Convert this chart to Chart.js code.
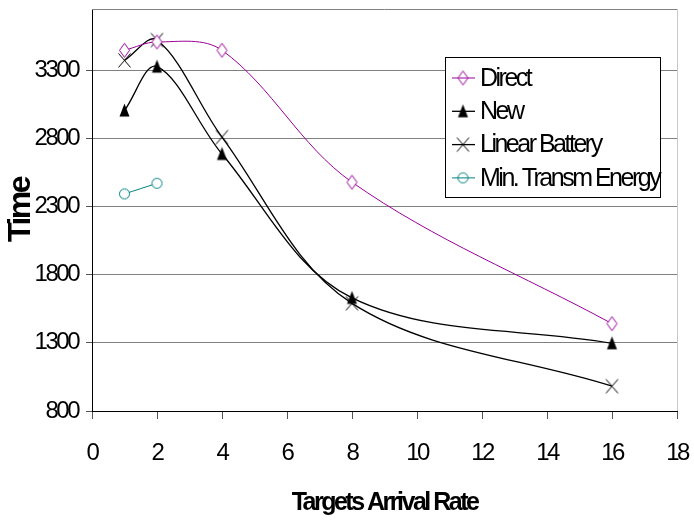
<!DOCTYPE html>
<html>
<head>
<meta charset="utf-8">
<script src="https://cdn.jsdelivr.net/npm/chart.js@4/dist/chart.umd.min.js"></script>
<style>
  html, body { margin: 0; padding: 0; background: #ffffff; }
  #wrap { width: 694px; height: 525px; }
</style>
</head>
<body>
<div id="wrap"><canvas id="chart" width="694" height="525"></canvas></div>
<script>
// Targets arrival rate vs. time for each routing scheme
const arrivalRates = [1, 2, 4, 8, 16];
const directTimes = [3447, 3508, 3447, 2479, 1441];
const newTimes = [3005, 3327, 2686, 1630, 1297];
const linearBatteryTimes = [3373, 3522, 2810, 1590, 982];
const minTransmRates = [1, 2];
const minTransmTimes = [2393, 2471];
const seriesNames = ['Direct', 'New', 'Linear Battery', 'Min. Transm Energy'];
const xTickValues = [0, 2, 4, 6, 8, 10, 12, 14, 16, 18];
const yTickValues = [800, 1300, 1800, 2300, 2800, 3300];
const xMin = 0, xMax = 18, yMin = 800, yMax = 3750;

const FONT = "'Liberation Sans', Arial, sans-serif";
const PURPLE = '#990099';
const TEAL = '#008080';

// Small canvas markers (taller than wide)
function makeMarker(kind, color, fill) {
  const c = document.createElement('canvas');
  c.width = 15; c.height = 17;
  const g = c.getContext('2d');
  const cx = 7.5, cy = 8.5;
  g.lineWidth = 1;
  g.strokeStyle = color;
  g.beginPath();
  if (kind === 'diamond') {
    g.moveTo(cx, cy - 7); g.lineTo(cx + 5, cy); g.lineTo(cx, cy + 7); g.lineTo(cx - 5, cy); g.closePath();
    if (fill) { g.fillStyle = fill; g.fill(); }
    g.stroke();
  } else if (kind === 'triangle') {
    g.moveTo(cx, cy - 7); g.lineTo(cx + 5, cy + 6); g.lineTo(cx - 5, cy + 6); g.closePath();
    g.fillStyle = color; g.fill();
  } else if (kind === 'cross') {
    g.moveTo(cx - 6, cy - 7); g.lineTo(cx + 6, cy + 7);
    g.moveTo(cx + 6, cy - 7); g.lineTo(cx - 6, cy + 7);
    g.stroke();
  } else if (kind === 'circle') {
    g.arc(cx, cy, 5, 0, Math.PI * 2);
    if (fill) { g.fillStyle = fill; g.fill(); }
    g.stroke();
  }
  return c;
}

const plotMarkers = [
  makeMarker('diamond', PURPLE, '#ffffff'),
  makeMarker('triangle', '#000000'),
  makeMarker('cross', '#000000'),
  makeMarker('circle', TEAL, '#ffffff')
];
const legendMarkers = [
  makeMarker('diamond', PURPLE, null),
  makeMarker('triangle', '#000000'),
  makeMarker('cross', '#000000'),
  makeMarker('circle', TEAL, null)
];
const lineColors = [PURPLE, '#000000', '#000000', TEAL];
const lineWidths = [1, 1.3, 1.3, 1];

function pairs(xs, ys) { return xs.map((x, i) => ({ x: x, y: ys[i] })); }

// Fixed axis box sizes, no label overflow padding
function fixBox(size, key) {
  return s => {
    s[key] = size;
    s.paddingTop = 0; s.paddingBottom = 0; s.paddingLeft = 0; s.paddingRight = 0;
  };
}

// Condensed text look for every label
const condensedText = {
  id: 'condensedText',
  beforeDraw(chart) { chart.ctx.letterSpacing = '-2.5px'; }
};

// Frame of the plot area: grey top edge, light right edge
const plotFrame = {
  id: 'plotFrame',
  beforeDatasetsDraw(chart) {
    const { ctx, chartArea: a } = chart;
    ctx.save();
    ctx.lineWidth = 1;
    ctx.strokeStyle = '#808080';
    ctx.beginPath(); ctx.moveTo(a.left, a.top + 0.5); ctx.lineTo(a.right, a.top + 0.5); ctx.stroke();
    ctx.strokeStyle = '#c8c8c8';
    ctx.beginPath(); ctx.moveTo(a.right + 0.5, a.top); ctx.lineTo(a.right + 0.5, a.bottom); ctx.stroke();
    ctx.restore();
  }
};

// Boxed legend inside the plot
const boxedLegend = {
  id: 'boxedLegend',
  afterDraw(chart) {
    const ctx = chart.ctx;
    const box = { x: 445, y: 57, w: 215, h: 140 };
    ctx.save();
    ctx.fillStyle = '#ffffff';
    ctx.fillRect(box.x, box.y, box.w, box.h);
    ctx.strokeStyle = '#000000';
    ctx.lineWidth = 1;
    ctx.strokeRect(box.x + 0.5, box.y + 0.5, box.w, box.h);
    ctx.letterSpacing = '-2.5px';
    ctx.font = '25px ' + FONT;
    ctx.textAlign = 'left';
    ctx.textBaseline = 'middle';
    seriesNames.forEach((name, i) => {
      const y = 78 + i * 33.3;
      ctx.strokeStyle = lineColors[i];
      ctx.lineWidth = lineWidths[i];
      ctx.beginPath(); ctx.moveTo(452, y); ctx.lineTo(475, y); ctx.stroke();
      const m = legendMarkers[i];
      ctx.drawImage(m, 463 - m.width / 2, y - m.height / 2);
      ctx.fillStyle = '#000000';
      ctx.fillText(name, 480, y + 1);
    });
    ctx.restore();
  }
};

const seriesData = [
  pairs(arrivalRates, directTimes),
  pairs(arrivalRates, newTimes),
  pairs(arrivalRates, linearBatteryTimes),
  pairs(minTransmRates, minTransmTimes)
];

new Chart(document.getElementById('chart'), {
  type: 'line',
  data: {
    datasets: seriesNames.map((name, i) => ({
      label: name,
      data: seriesData[i],
      borderColor: lineColors[i],
      borderWidth: lineWidths[i],
      backgroundColor: lineColors[i],
      pointStyle: plotMarkers[i],
      pointRadius: 6,
      pointHoverRadius: 6,
      tension: 0.35,
      fill: false
    }))
  },
  options: {
    responsive: false,
    maintainAspectRatio: false,
    devicePixelRatio: 1,
    animation: false,
    layout: { padding: { top: 9, right: 17, bottom: 0, left: 0 } },
    plugins: {
      legend: { display: false },
      tooltip: { enabled: false }
    },
    scales: {
      x: {
        type: 'linear',
        min: xMin, max: xMax,
        afterBuildTicks: s => { s.ticks = xTickValues.map(v => ({ value: v })); },
        afterFit: fixBox(114, 'height'),
        grid: { drawOnChartArea: false, tickLength: 8, tickColor: '#555555' },
        border: { color: '#000000', width: 1 },
        ticks: {
          autoSkip: false, maxRotation: 0, padding: 20, color: '#000000',
          font: { family: FONT, size: 24 },
          callback: v => String(v)
        },
        title: {
          display: true, text: 'Targets Arrival Rate', color: '#000000',
          font: { family: FONT, size: 25, weight: 'bold' },
          padding: { top: 0, bottom: 7 }
        }
      },
      y: {
        type: 'linear',
        min: yMin, max: yMax,
        afterBuildTicks: s => { s.ticks = yTickValues.map(v => ({ value: v })); },
        afterFit: fixBox(92, 'width'),
        grid: {
          color: c => (c.tick && c.tick.value === yMin) ? 'rgba(0,0,0,0)' : '#808080',
          tickColor: '#555555', tickLength: 6
        },
        border: { color: '#000000', width: 1 },
        ticks: {
          padding: 8, color: '#000000',
          font: { family: FONT, size: 24 },
          callback: v => String(v)
        },
        title: {
          display: true, text: 'Time', color: '#000000',
          font: { family: FONT, size: 32, weight: 'bold' },
          padding: { top: 2, bottom: 2 }
        }
      }
    }
  },
  plugins: [condensedText, plotFrame, boxedLegend]
});
</script>
</body>
</html>
